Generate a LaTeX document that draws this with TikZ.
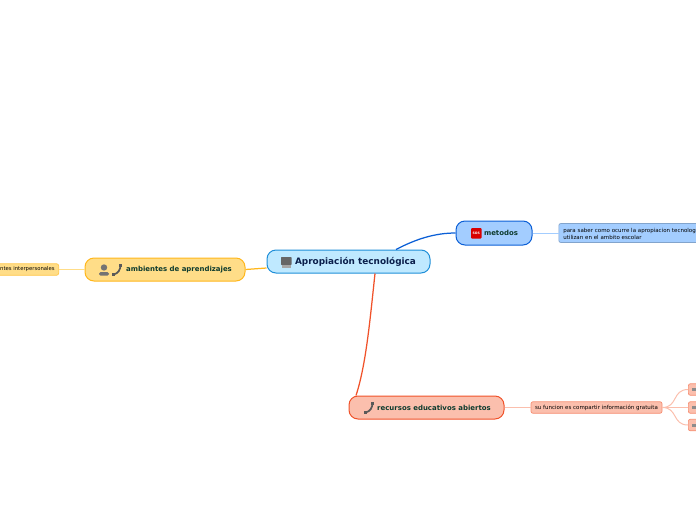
\documentclass[tikz,border=0pt]{standalone}
\usepackage{fontspec}
\setmainfont{DejaVu Sans}
\definecolor{cenF}{HTML}{BFE9FF}\definecolor{cenD}{HTML}{1F8FD8}
\definecolor{bluF}{HTML}{A3CDFF}\definecolor{bluD}{HTML}{0B5FD6}
\definecolor{ambF}{HTML}{FFDD88}\definecolor{ambD}{HTML}{FFB71C}
\definecolor{redF}{HTML}{FBBFAD}\definecolor{redD}{HTML}{F0522A}
\definecolor{txtG}{HTML}{0D3B2E}\definecolor{txtN}{HTML}{0B1F4B}
\tikzset{
 mainbox/.style={draw,line width=1pt,rounded corners=9pt,inner sep=0pt,minimum height=23pt,text=txtG,font=\fontsize{6.95}{8}\selectfont\bfseries},
 leafbox/.style={rounded corners=2pt,inner sep=0pt,text=black,line width=.7pt,font=\fontsize{5.5}{6.8}\selectfont},
 conn/.style={line width=1.25pt},
 thin conn/.style={line width=1pt},
 phoneicon/.style={line width=1.7pt,draw=black!65,line cap=round},
 phoneend/.style={fill=black!65},
}
\begin{document}
\begin{tikzpicture}[x=1pt,y=-1pt]
\useasboundingbox (0,0) rectangle (696,520);
\clip (0,0) rectangle (696,520);
\node[mainbox,fill=cenF,draw=cenD,text=txtN,minimum width=163pt,font=\fontsize{8.9}{10}\selectfont\bfseries] (cen) at (348.5,261.5) {\hspace*{14pt}\raisebox{-1.6pt}{Apropiación tecnológica}};
\node[mainbox,fill=bluF,draw=bluD,minimum width=76pt,minimum height=24pt] (met) at (494,233) {\hspace*{14pt}\raisebox{-1pt}{metodos}};
\node[mainbox,fill=ambF,draw=ambD,minimum width=160pt] (amb) at (165,269.5) {\hspace*{28pt}\raisebox{-1.2pt}{ambientes de aprendizajes}};
\node[mainbox,fill=redF,draw=redD,minimum width=155pt] (rec) at (426.5,407.5) {\hspace*{15pt}\raisebox{-1pt}{recursos educativos abiertos}};
\node[leafbox,fill=bluF,draw=bluF!80!black,minimum width=160pt,minimum height=19pt,anchor=west,align=left,text width=154pt] (par) at (558.5,233) {\rule{0pt}{6.2pt}\hspace*{1.5pt}para saber como ocurre la apropiacion tecnologica\\\hspace*{1.5pt}utilizan en el ambito escolar};
\node[leafbox,fill=ambF,draw=ambD!60!ambF,minimum height=11.5pt,anchor=east,font=\fontsize{5.3}{6.8}\selectfont] (int) at (59,269.5) {\hspace*{4pt}ntes interpersonales\hspace*{4pt}};
\node[leafbox,fill=redF,draw=redD!45!redF,minimum width=131pt,minimum height=11.5pt] (fun) at (596.5,407.5) {su funcion es compartir información gratuita};
\foreach \n/\y in {k1/389.5,k2/407.5,k3/425}{
 \node[leafbox,fill=redF,draw=redD!45!redF,minimum width=20pt,minimum height=11.5pt,anchor=west] (\n) at (688,\y) {};
 \fill[black!45] (691.5,\y-1.5) rectangle (696,\y+1.5);
}
\draw[conn,draw=bluD] ([xshift=47.5pt]cen.north) .. controls (416,239) and (435,233) .. (met.west);
\draw[conn,draw=ambD] ([yshift=-6.5pt]cen.west) -- (amb.east);
\draw[conn,draw=redD] ([xshift=26.5pt]cen.south) .. controls (370,320) and (366,365) .. ([xshift=-70.5pt]rec.north);
\draw[thin conn,draw=bluF] (met.east) -- (par.west);
\draw[thin conn,draw=ambF] (amb.west) -- (int.east);
\draw[thin conn,draw=redF] (rec.east) -- (fun.west);
\foreach \n/\y in {k1/389.5,k2/407.5,k3/425}
 \draw[thin conn,draw=redF] (fun.east) .. controls (678,407.5) and (672,\y) .. (\n.west);
% icons
\fill[black!60,rounded corners=.6pt] (281,257) rectangle (291.5,265);
\fill[black!35] (281.5,265) rectangle (291,267.5);
\fill[red!85!black,rounded corners=1pt] (471,228) rectangle (481.5,238.5);
\node[text=white,inner sep=0pt,font=\fontsize{3.2}{4}\selectfont\bfseries] (sos) at (476.2,233.2) {SOS};
\fill[black!55] (104,267.5) circle (3.2);
\fill[black!55,rounded corners=1.5pt] (99,275.5) -- (99,272) -- (109,272) -- (109,275.5) -- cycle;
\draw[phoneicon] (120.5,265) .. controls (120.5,270) and (118,273.5) .. (113.5,274.5);
\fill[phoneend] (119,264) rectangle (122,267);
\fill[phoneend] (112,273) rectangle (115,276);
\draw[phoneicon] (372.5,403) .. controls (372.5,408) and (370,411.5) .. (365.5,412.5);
\fill[phoneend] (371,402) rectangle (374,405);
\fill[phoneend] (364,411) rectangle (367,414);
\end{tikzpicture}
\end{document}
